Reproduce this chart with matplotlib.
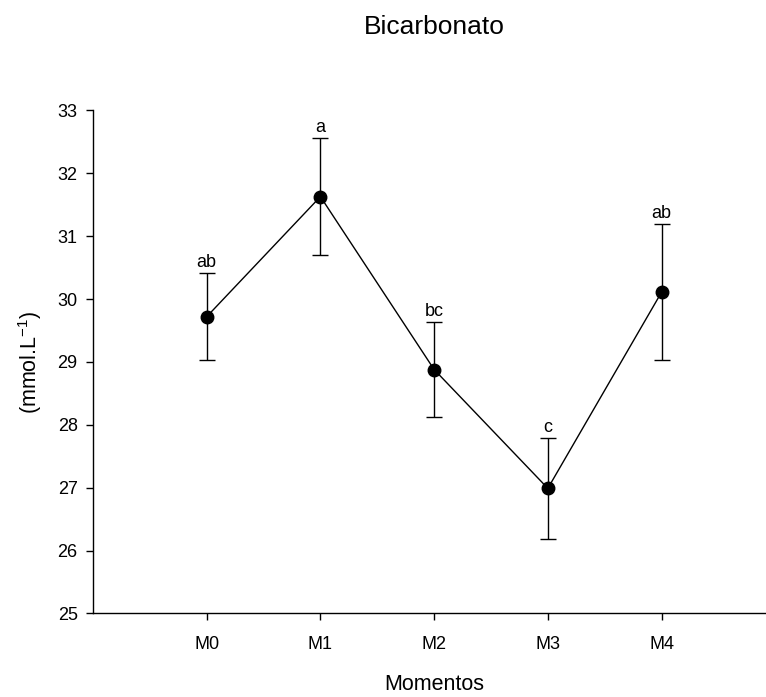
import matplotlib.pyplot as plt

plt.rcParams['font.family'] = ['Liberation Sans', 'DejaVu Sans']
plt.rcParams['mathtext.default'] = 'regular'

# data
momentos = ['M0', 'M1', 'M2', 'M3', 'M4']
media = [29.72, 31.63, 28.88, 26.99, 30.11]
desvio = [0.69, 0.93, 0.76, 0.80, 1.08]
letras = ['ab', 'a', 'bc', 'c', 'ab']
y_ticks = [25, 26, 27, 28, 29, 30, 31, 32, 33]

fig = plt.figure(figsize=(7.66, 6.97), dpi=100)
ax = fig.add_axes([0.1214, 0.1198, 0.8907, 0.7217])

x = list(range(len(momentos)))
ax.errorbar(x, media, yerr=desvio, color='black', lw=1.0, elinewidth=1.0,
            capsize=6, capthick=1.0, marker='o', markersize=9, zorder=3)

# significance letters above the error bars
for xi, m, d, l in zip(x, media, desvio, letras):
    ax.annotate(l, (xi, m + d), xytext=(0, 1.5), textcoords='offset points',
                ha='center', va='bottom', fontsize=13)

ax.set_xlim(-1, 5)
ax.set_ylim(25, 33)
ax.set_xticks(x)
ax.set_xticklabels(momentos)
ax.set_yticks(y_ticks)
ax.tick_params(axis='both', direction='out', length=5, width=1.0, labelsize=13)
ax.tick_params(axis='x', pad=11)
ax.tick_params(axis='y', pad=6)

for s in ['top', 'right']:
    ax.spines[s].set_visible(False)
for s in ['left', 'bottom']:
    ax.spines[s].set_linewidth(1.0)

ax.set_xlabel('Momentos', fontsize=15.5, labelpad=15)
ax.set_ylabel('(mmol.L$^{-1}$)', fontsize=15.5, labelpad=10)
ax.set_title('Bicarbonato', fontsize=19, pad=55)

fig.savefig('out.png', dpi=100)
